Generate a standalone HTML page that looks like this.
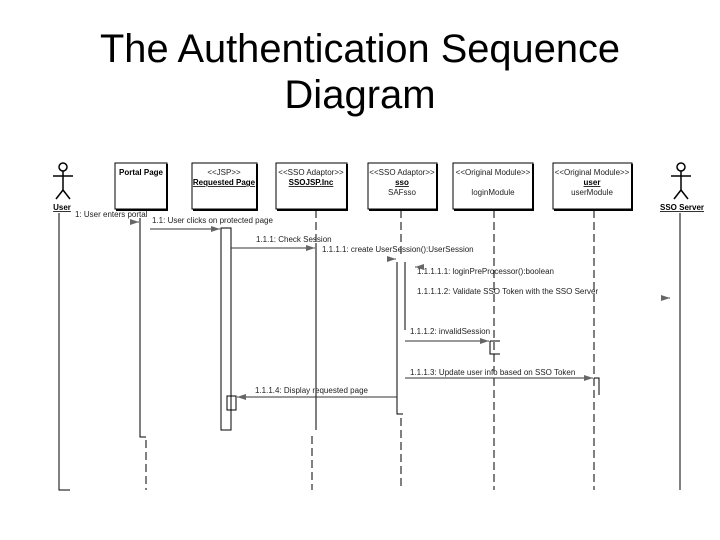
<!DOCTYPE html>
<html><head><meta charset="utf-8"><style>
html,body{margin:0;padding:0;background:#fff;}
svg{display:block;}
.t{font-family:"Liberation Sans",sans-serif;font-size:8px;fill:#222;}
.b{font-family:"Liberation Sans",sans-serif;font-size:8px;fill:#000;font-weight:bold;}
</style></head><body>
<svg width="720" height="540" viewBox="0 0 720 540" xmlns="http://www.w3.org/2000/svg">
<defs>
<marker id="a" markerWidth="10" markerHeight="8" refX="9" refY="4" orient="auto" markerUnits="userSpaceOnUse">
<path d="M0,1 L9,4 L0,7 Z" fill="#666"/></marker>
</defs>
<text x="360" y="62" text-anchor="middle" font-family="Liberation Sans,sans-serif" font-size="40" textLength="520" lengthAdjust="spacingAndGlyphs">The Authentication Sequence</text>
<text x="360" y="108" text-anchor="middle" font-family="Liberation Sans,sans-serif" font-size="40">Diagram</text>

<g fill="#fff" stroke="#000" stroke-width="1">
<rect x="115" y="163" width="52" height="46"/>
<rect x="192" y="163" width="65" height="46"/>
<rect x="276" y="163" width="71" height="46"/>
<rect x="368" y="163" width="69" height="46"/>
<rect x="453" y="163" width="80" height="46"/>
<rect x="553" y="163" width="79" height="46"/>
</g>
<g stroke="#000" stroke-width="2">
<line x1="167" y1="164" x2="167" y2="210"/><line x1="116" y1="210" x2="168" y2="210"/>
<line x1="257" y1="164" x2="257" y2="210"/><line x1="193" y1="210" x2="258" y2="210"/>
<line x1="347" y1="164" x2="347" y2="210"/><line x1="277" y1="210" x2="348" y2="210"/>
<line x1="437" y1="164" x2="437" y2="210"/><line x1="369" y1="210" x2="438" y2="210"/>
<line x1="533" y1="164" x2="533" y2="210"/><line x1="454" y1="210" x2="534" y2="210"/>
<line x1="632" y1="164" x2="632" y2="210"/><line x1="554" y1="210" x2="633" y2="210"/>
</g>
<text class="b" x="141" y="175" text-anchor="middle">Portal Page</text>
<text class="t" x="224" y="175" text-anchor="middle">&lt;&lt;JSP&gt;&gt;</text>
<text class="b" x="224" y="185" text-anchor="middle" text-decoration="underline">Requested Page</text>
<text class="t" x="311" y="175" text-anchor="middle">&lt;&lt;SSO Adaptor&gt;&gt;</text>
<text class="b" x="311" y="185" text-anchor="middle" text-decoration="underline">SSOJSP.Inc</text>
<text class="t" x="402" y="175" text-anchor="middle">&lt;&lt;SSO Adaptor&gt;&gt;</text>
<text class="b" x="402" y="185" text-anchor="middle" text-decoration="underline">sso</text>
<text class="t" x="402" y="195" text-anchor="middle">SAFsso</text>
<text class="t" x="493" y="175" text-anchor="middle">&lt;&lt;Original Module&gt;&gt;</text>
<text class="t" x="493" y="195" text-anchor="middle">loginModule</text>
<text class="t" x="592" y="175" text-anchor="middle">&lt;&lt;Original Module&gt;&gt;</text>
<text class="b" x="592" y="185" text-anchor="middle" text-decoration="underline">user</text>
<text class="t" x="592" y="195" text-anchor="middle">userModule</text>

<!-- actors -->
<g stroke="#000" stroke-width="1.5" fill="#fff">
<circle cx="63" cy="167" r="4"/><line x1="63" y1="171" x2="63" y2="190"/><line x1="53" y1="176" x2="73" y2="176"/>
<line x1="63" y1="190" x2="56" y2="199"/><line x1="63" y1="190" x2="70" y2="199"/>
<circle cx="681" cy="167" r="4"/><line x1="681" y1="171" x2="681" y2="190"/><line x1="671" y1="176" x2="691" y2="176"/>
<line x1="681" y1="190" x2="674" y2="199"/><line x1="681" y1="190" x2="688" y2="199"/>
</g>
<text class="b" x="62" y="210" text-anchor="middle" text-decoration="underline">User</text>
<text class="b" x="682" y="210" text-anchor="middle" text-decoration="underline">SSO Server</text>

<!-- lifelines -->
<g stroke="#000" stroke-width="1" fill="none">
<polyline points="59,213 59,490 70,490"/>
<line x1="680" y1="213" x2="680" y2="490"/>
<polyline points="140,218 140,437 146,437"/>
<rect x="221" y="228" width="10" height="202"/>
<rect x="227" y="396" width="9" height="14"/>
<polyline points="316,243 316,430"/>
<polyline points="397,262 397,414 403,414"/>
<line x1="405" y1="262" x2="405" y2="330"/>
<polyline points="490,341 500,341"/><polyline points="490,341 490,354 500,354"/>
<polyline points="594,378 599,378 599,395"/>
</g>
<g stroke="#000" stroke-width="1" stroke-dasharray="8,4" fill="none">
<line x1="146" y1="440" x2="146" y2="490"/>
<line x1="316" y1="210" x2="316" y2="243"/>
<line x1="312" y1="436" x2="312" y2="490"/>
<line x1="401" y1="210" x2="401" y2="258"/>
<line x1="401" y1="418" x2="401" y2="490"/>
<line x1="494" y1="210" x2="494" y2="490"/>
<line x1="594" y1="210" x2="594" y2="490"/>
</g>

<!-- messages -->
<g stroke="#333" stroke-width="1">
<line x1="130" y1="222" x2="139" y2="222" marker-end="url(#a)"/>
<line x1="150" y1="229" x2="220" y2="229" marker-end="url(#a)"/>
<line x1="231" y1="248" x2="315" y2="248" marker-end="url(#a)"/>
<line x1="390" y1="259" x2="396" y2="259" marker-end="url(#a)"/>
<line x1="424" y1="267" x2="415" y2="267" marker-end="url(#a)"/>
<line x1="664" y1="298" x2="670" y2="298" marker-end="url(#a)"/>
<line x1="405" y1="341" x2="489" y2="341" marker-end="url(#a)"/>
<line x1="405" y1="378" x2="593" y2="378" marker-end="url(#a)"/>
<line x1="397" y1="397" x2="237" y2="397" marker-end="url(#a)"/>
</g>
<text class="t" x="75" y="217">1: User enters portal</text>
<text class="t" x="152" y="223">1.1: User clicks on protected page</text>
<text class="t" x="256" y="242">1.1.1: Check Session</text>
<text class="t" x="322" y="252">1.1.1.1: create UserSession():UserSession</text>
<text class="t" x="417" y="274">1.1.1.1.1: loginPreProcessor():boolean</text>
<text class="t" x="417" y="294">1.1.1.1.2: Validate SSO Token with the SSO Server</text>
<text class="t" x="410" y="334">1.1.1.2: invalidSession</text>
<text class="t" x="410" y="375">1.1.1.3: Update user info based on SSO Token</text>
<text class="t" x="255" y="393">1.1.1.4: Display requested page</text>
</svg>
</body></html>
